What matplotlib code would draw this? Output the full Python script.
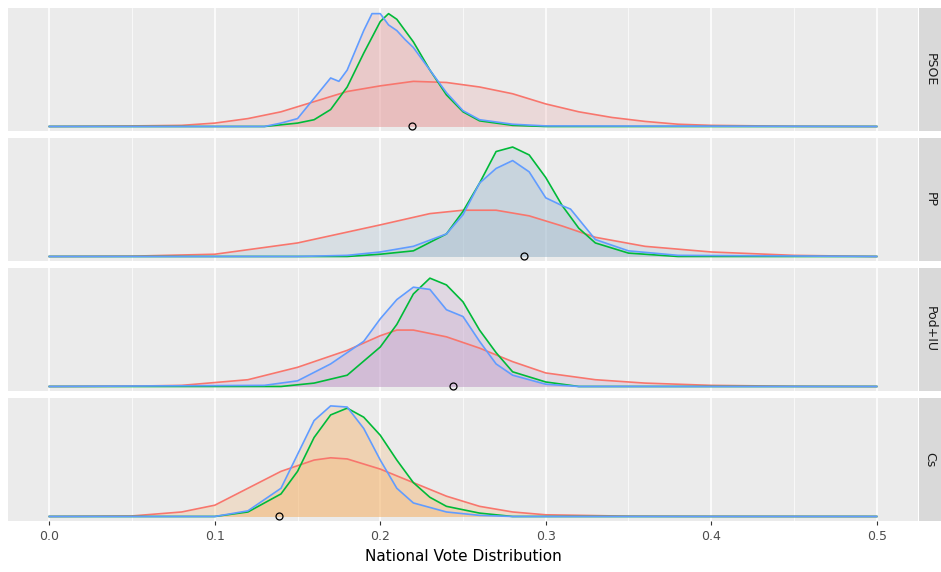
import matplotlib.pyplot as plt
import numpy as np

parties = ['PSOE', 'PP', 'Pod+IU', 'Cs']
fills = ['#E8A0A0', '#9DB8CC', '#C29CC8', '#F5B36A']
results = [0.219, 0.287, 0.244, 0.139]

# density curves: (x, height) pairs per party
red = {
    'PSOE': ([0, .05, .08, .1, .12, .14, .16, .18, .2, .22, .24, .26, .28, .3, .32, .34, .36, .38, .4, .45, .5],
             [0, .005, .01, .03, .07, .13, .22, .31, .36, .40, .39, .35, .29, .2, .13, .08, .045, .02, .01, .002, 0]),
    'PP': ([0, .05, .1, .15, .2, .23, .25, .27, .29, .31, .33, .36, .4, .45, .5],
           [0, .003, .02, .12, .28, .38, .41, .41, .36, .27, .17, .09, .04, .01, 0]),
    'Pod+IU': ([0, .05, .08, .12, .15, .18, .2, .21, .22, .24, .26, .28, .3, .33, .36, .4, .45, .5],
               [0, .003, .01, .06, .17, .32, .45, .5, .5, .44, .34, .22, .12, .06, .03, .01, .002, 0]),
    'Cs': ([0, .05, .08, .1, .12, .14, .16, .17, .18, .2, .22, .24, .26, .28, .3, .35, .4, .5],
           [0, .005, .04, .1, .25, .4, .5, .52, .51, .42, .3, .18, .09, .04, .015, .003, .001, 0]),
}
green = {
    'PSOE': ([0, .13, .15, .16, .17, .18, .19, .2, .205, .21, .22, .23, .24, .25, .26, .28, .3, .5],
             [0, 0, .03, .06, .15, .35, .65, .93, 1.0, .95, .75, .5, .28, .13, .05, .01, 0, 0]),
    'PP': ([0, .18, .2, .22, .24, .25, .26, .27, .28, .29, .3, .31, .32, .33, .35, .38, .5],
           [0, 0, .02, .05, .2, .4, .65, .93, .97, .9, .7, .45, .25, .12, .03, 0, 0]),
    'Pod+IU': ([0, .14, .16, .18, .2, .21, .22, .23, .24, .25, .26, .27, .28, .3, .32, .5],
               [0, 0, .03, .1, .35, .55, .82, .96, .9, .75, .5, .3, .13, .04, 0, 0]),
    'Cs': ([0, .1, .12, .14, .15, .16, .17, .18, .19, .2, .21, .22, .23, .24, .26, .28, .5],
           [0, 0, .04, .2, .4, .7, .9, .96, .88, .72, .5, .3, .17, .09, .03, 0, 0]),
}
blue = {
    'PSOE': ([0, .13, .14, .15, .16, .17, .175, .18, .19, .195, .2, .205, .21, .215, .22, .23, .24, .25, .26, .28, .3, .5],
             [0, 0, .03, .07, .25, .43, .40, .5, .85, 1.0, 1.0, .9, .85, .77, .7, .5, .3, .14, .06, .02, .005, 0]),
    'PP': ([0, .15, .18, .2, .22, .24, .25, .26, .27, .28, .29, .3, .31, .315, .32, .33, .35, .38, .5],
           [0, 0, .01, .04, .09, .2, .37, .65, .78, .85, .75, .52, .45, .42, .33, .15, .05, .01, 0]),
    'Pod+IU': ([0, .13, .15, .17, .19, .2, .21, .22, .23, .24, .25, .26, .27, .28, .3, .32, .5],
               [0, .01, .05, .2, .4, .6, .77, .88, .86, .68, .62, .4, .2, .1, .02, 0, 0]),
    'Cs': ([0, .1, .12, .14, .15, .16, .17, .18, .19, .2, .21, .22, .24, .26, .28, .5],
           [0, 0, .05, .25, .55, .85, .98, .97, .78, .5, .25, .12, .04, .01, 0, 0]),
}

fig = plt.figure(figsize=(9.41, 5.72), dpi=100)
W, H = 941, 572
tops = [8, 138, 268, 398]
ph = 123
for i, p in enumerate(parties):
    ax = fig.add_axes([8 / W, 1 - (tops[i] + ph) / H, 910 / W, ph / H])
    ax.set_facecolor('#EBEBEB')
    ax.set_axisbelow(True)
    for c in (red, green, blue):
        x, y = c[p]
        ax.fill_between(x, y, color=fills[i], alpha=0.25, lw=0)
    for c, col in ((red, '#F8766D'), (green, '#00BA38'), (blue, '#619CFF')):
        x, y = c[p]
        ax.plot(x, y, color=col, lw=1.2)
    ax.plot(results[i], 0, 'o', mfc='none', mec='black', ms=5, mew=0.9, clip_on=False, zorder=5)
    ax.set_xlim(-0.025, 0.525)
    ax.set_ylim(-0.04, 1.05)
    ax.set_yticks([])
    ax.set_xticks(np.arange(0, 0.51, 0.1))
    ax.set_xticks(np.arange(0.05, 0.5, 0.1), minor=True)
    ax.grid(True, which='major', color='white', lw=1.1)
    ax.grid(True, which='minor', color='white', lw=0.5)
    ax.tick_params(which='both', length=0)
    for s in ax.spines.values():
        s.set_visible(False)
    if i < 3:
        ax.set_xticklabels([])
    else:
        ax.tick_params(axis='x', which='major', length=3, color='#333333', labelcolor='#4D4D4D', labelsize=9)
        ax.set_xticklabels(['0.0', '0.1', '0.2', '0.3', '0.4', '0.5'])
        ax.set_xlabel('National Vote Distribution', fontsize=11)
    sax = fig.add_axes([919 / W, 1 - (tops[i] + ph) / H, 22 / W, ph / H])
    sax.set_facecolor('#D9D9D9')
    sax.set_xticks([]); sax.set_yticks([])
    for s in sax.spines.values():
        s.set_visible(False)
    sax.text(0.5, 0.5, p, rotation=-90, ha='center', va='center', fontsize=9, color='#1A1A1A', transform=sax.transAxes)

plt.savefig('out.png', dpi=100)
